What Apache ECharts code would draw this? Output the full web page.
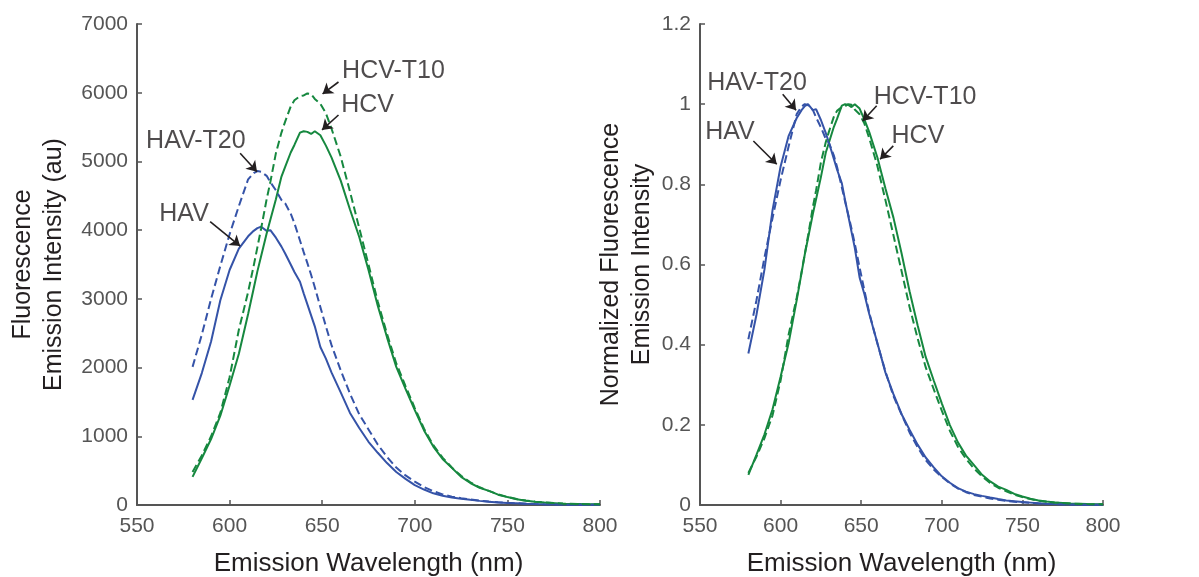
<!DOCTYPE html>
<html>
<head>
<meta charset="utf-8">
<title>Emission spectra</title>
<script src="https://cdn.jsdelivr.net/npm/echarts@6/dist/echarts.min.js"></script>
<style>
  html, body { margin: 0; padding: 0; background: #ffffff; }
  #chart { width: 1199px; height: 577px; }
</style>
</head>
<body>
<div id="chart"></div>
<script>
// Emission wavelengths (nm) shared by all spectra
const wavelengths = [580, 585, 590, 595, 600, 605, 610, 613, 615, 617, 620, 622, 625, 628, 630, 633, 635, 638, 640, 642, 644, 646, 649, 652, 655, 660, 665, 670, 675, 680, 685, 690, 695, 700, 705, 710, 715, 720, 725, 730, 735, 740, 745, 750, 755, 760, 765, 770, 780, 790, 800];

// Fluorescence emission intensity (au)
const hav    = [1530, 1920, 2380, 2980, 3420, 3730, 3910, 3990, 4030, 4050, 3990, 4000, 3890, 3760, 3660, 3500, 3390, 3250, 3080, 2920, 2760, 2600, 2300, 2130, 1930, 1640, 1340, 1120, 920, 760, 610, 480, 380, 290, 225, 170, 135, 110, 92, 75, 60, 46, 38, 30, 24, 18, 13, 10, 6, 3, 2];
const havT20 = [2010, 2480, 3000, 3480, 3940, 4350, 4740, 4830, 4860, 4850, 4790, 4700, 4580, 4440, 4390, 4240, 4100, 3850, 3680, 3520, 3350, 3170, 2880, 2600, 2330, 1960, 1620, 1320, 1100, 880, 700, 545, 430, 340, 262, 200, 155, 122, 100, 80, 64, 50, 40, 32, 25, 19, 14, 10, 6, 3, 2];
const hcv    = [410, 680, 960, 1300, 1740, 2200, 2780, 3150, 3400, 3620, 3950, 4150, 4450, 4780, 4920, 5130, 5240, 5420, 5440, 5430, 5400, 5440, 5380, 5230, 5060, 4720, 4300, 3900, 3420, 2900, 2440, 2010, 1690, 1380, 1085, 850, 670, 540, 410, 320, 250, 205, 150, 115, 85, 62, 47, 35, 20, 14, 10];
const hcvT10 = [480, 720, 1000, 1340, 1860, 2550, 3100, 3480, 3750, 4020, 4450, 4700, 5120, 5420, 5580, 5800, 5890, 5950, 5960, 5990, 5980, 5910, 5840, 5700, 5480, 5070, 4560, 4030, 3500, 2960, 2490, 2060, 1730, 1410, 1110, 870, 690, 545, 425, 330, 258, 205, 155, 118, 88, 64, 49, 36, 21, 14, 10];

// Axis ranges and tick spacing
const wlRange = [550, 800, 50];
const rawRange = [0, 7000, 1000];
const normRange = [0, 1.2, 0.2];

// Callout labels: text position and arrow (tail -> tip), in data units
const rawNotes = [
  { text: 'HCV-T10', at: [688.5, 6310], tail: [658.8, 6156], tip: [650.2, 5982] },
  { text: 'HCV',     at: [674.5, 5816], tail: [658.8, 5676], tip: [649.9, 5458] },
  { text: 'HAV-T20', at: [581.8, 5292], tail: [605.7, 5118], tip: [614.8, 4851] },
  { text: 'HAV',     at: [575.4, 4230], tail: [589.5, 4123], tip: [605.7, 3769] }
];
const normNotes = [
  { text: 'HAV-T20', at: [585.4, 1.052], tail: [601.3, 1.025], tip: [609.6, 0.985] },
  { text: 'HAV',     at: [568.6, 0.93], tail: [583.1, 0.908], tip: [597.6, 0.85] },
  { text: 'HCV-T10', at: [689.6, 1.017], tail: [659.6, 0.996], tip: [650.9, 0.958] },
  { text: 'HCV',     at: [685.2, 0.92], tail: [669.9, 0.896], tip: [661.7, 0.8625] }
];

const BLUE = '#3553a8';
const GREEN = '#16883f';
const INK = '#231f20';
const AXIS = '#555555';
const FONT = '"Liberation Sans", Arial, Helvetica, sans-serif';

function pairs(ys) { return wavelengths.map((w, i) => [w, ys[i]]); }
function normalized(ys) {
  const peak = Math.max.apply(null, ys);
  return wavelengths.map((w, i) => [w, ys[i] / peak]);
}

function spectrum(name, data, color, dashed, idx) {
  return {
    name: name, type: 'line', xAxisIndex: idx, yAxisIndex: idx,
    data: data, showSymbol: false, smooth: false, silent: true,
    lineStyle: { color: color, width: 2, type: dashed ? [8, 4] : 'solid' },
    z: dashed ? 3 : 2
  };
}

function callouts(notes, idx) {
  return {
    type: 'scatter', xAxisIndex: idx, yAxisIndex: idx, silent: true,
    symbolSize: 0,
    data: notes.map(n => ({ value: n.at, name: n.text })),
    label: {
      show: true, position: 'inside', formatter: '{b}',
      color: INK, fontSize: 25, fontFamily: FONT
    },
    markLine: {
      silent: true, symbol: ['none', 'arrow'], symbolSize: 10,
      lineStyle: { color: INK, width: 1.6, type: 'solid' },
      label: { show: false },
      emphasis: { disabled: true },
      data: notes.map(n => [{ coord: n.tail }, { coord: n.tip }])
    },
    z: 5
  };
}

// Plain tick text, no thousands separators
function tickText(v) { return String(Math.round(v * 1000) / 1000); }

function xAxis(idx) {
  return {
    type: 'value', gridIndex: idx,
    min: wlRange[0], max: wlRange[1], interval: wlRange[2],
    name: 'Emission Wavelength (nm)', nameLocation: 'middle', nameGap: 46,
    nameTextStyle: { color: INK, fontSize: 26, fontFamily: FONT },
    axisLine: { show: true, lineStyle: { color: AXIS, width: 2 } },
    axisTick: { show: true, inside: true, length: 5, lineStyle: { color: AXIS, width: 1.5 } },
    axisLabel: { color: AXIS, fontSize: 21, margin: 11, fontFamily: FONT, formatter: tickText },
    splitLine: { show: false }
  };
}

function yAxis(idx, range, title, gap) {
  return {
    type: 'value', gridIndex: idx,
    min: range[0], max: range[1], interval: range[2],
    name: title, nameLocation: 'middle', nameRotate: 90, nameGap: gap,
    nameTextStyle: { color: INK, fontSize: 25, lineHeight: 31, fontFamily: FONT, align: 'center' },
    axisLine: { show: true, lineStyle: { color: AXIS, width: 2 } },
    axisTick: { show: true, inside: true, length: 5, lineStyle: { color: AXIS, width: 1.5 } },
    axisLabel: { color: AXIS, fontSize: 21, margin: 9, fontFamily: FONT, formatter: tickText },
    splitLine: { show: false }
  };
}

const chart = echarts.init(document.getElementById('chart'), null, { renderer: 'canvas' });
chart.setOption({
  animation: false,
  backgroundColor: '#ffffff',
  textStyle: { fontFamily: FONT },
  grid: [
    { left: 137, top: 24, width: 463, height: 481, outerBoundsMode: 'none', containLabel: false },
    { left: 700, top: 24, width: 403, height: 481, outerBoundsMode: 'none', containLabel: false }
  ],
  xAxis: [xAxis(0), xAxis(1)],
  yAxis: [
    yAxis(0, rawRange, 'Fluorescence\nEmission Intensity (au)', 67),
    yAxis(1, normRange, 'Normalized Fluorescence\nEmission Intensity', 37)
  ],
  series: [
    spectrum('HAV', pairs(hav), BLUE, false, 0),
    spectrum('HAV-T20', pairs(havT20), BLUE, true, 0),
    spectrum('HCV', pairs(hcv), GREEN, false, 0),
    spectrum('HCV-T10', pairs(hcvT10), GREEN, true, 0),
    spectrum('HAV', normalized(hav), BLUE, false, 1),
    spectrum('HAV-T20', normalized(havT20), BLUE, true, 1),
    spectrum('HCV', normalized(hcv), GREEN, false, 1),
    spectrum('HCV-T10', normalized(hcvT10), GREEN, true, 1),
    callouts(rawNotes, 0),
    callouts(normNotes, 1)
  ]
});
</script>
</body>
</html>
